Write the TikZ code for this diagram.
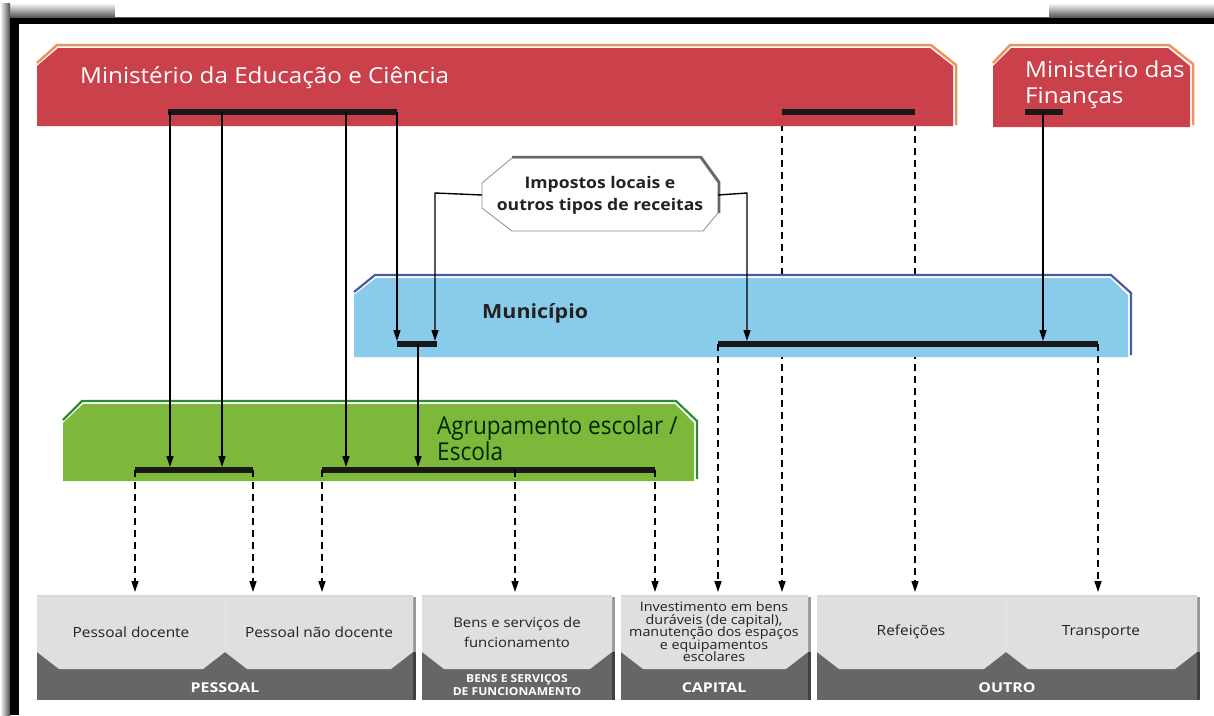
\documentclass[tikz,border=0pt]{standalone}
\usepackage{fontspec}
\setmainfont{Open Sans}
\newfontfamily\wfont[FakeStretch=1.1]{Open Sans}
\newfontfamily\bfont[FakeStretch=1.18]{Open Sans}
\usetikzlibrary{arrows.meta}
\definecolor{mecred}{HTML}{CA414B}
\definecolor{mecorange}{HTML}{E9955C}
\definecolor{munblue}{HTML}{88CBEA}
\definecolor{mundark}{HTML}{4A5BA5}
\definecolor{agrgreen}{HTML}{7DB83A}
\definecolor{agrdark}{HTML}{2E8B3A}
\definecolor{lightbox}{HTML}{E0DEDF}
\definecolor{darkband}{HTML}{666666}
\definecolor{txtdark}{HTML}{222222}
\begin{document}
\begin{tikzpicture}[x=1pt,y=-1pt,
  conn/.style={line width=1.4pt, draw=black},
  arr/.style={conn, -{Triangle[length=11pt,width=7pt]}},
  darr/.style={arr, dash pattern=on 7pt off 5pt},
  bar/.style={line width=6pt, draw=black!90},
  lbl/.style={inner sep=0pt, align=center, text=txtdark},
  bandlbl/.style={inner sep=0pt, align=center, text=white},
]
\useasboundingbox (0,0) rectangle (1214,715);
\fill[white] (0,0) rectangle (1214,715);
% frame with shadow
\shade[top color=white, bottom color=black!70] (0,3) rectangle (1214,18);
\shade[left color=white, right color=black!70] (0,3) rectangle (10,715);
\fill[black] (10,18) rectangle (1214,24);
\fill[black] (10,18) rectangle (19,715);
\fill[white] (115,0) rectangle (1049,17);

% ---- named points
\coordinate (mb1) at (168,112); \coordinate (mb2) at (397,112);
\coordinate (mr1) at (782,112); \coordinate (mr2) at (915,112);
\coordinate (fb1) at (1025,112); \coordinate (fb2) at (1063,112);
\coordinate (ub1) at (397,344); \coordinate (ub2) at (437,344);
\coordinate (ur1) at (718,344); \coordinate (ur2) at (1098,344);
\coordinate (gb1) at (135,470); \coordinate (gb2) at (253,470);
\coordinate (gc1) at (322,470); \coordinate (gc2) at (655,470);

% ---- dashed connectors behind the Municipio box
\draw[darr] (mr1) -- (782,592);
\draw[darr] (mr2) -- (915,592);

% ---- Ministry of Education
\fill[mecred] (37,66) -- (58,48) -- (930,48) -- (953,66) -- (953,126) -- (37,126) -- cycle;
\draw[mecorange, line width=2.5pt] (37,63) -- (57,45) -- (931,45) -- (956,65) -- (956,125);
\node[anchor=west, inner sep=0pt, text=white, font=\wfont\fontsize{22}{26}\selectfont] (mec) at (80,78) {Ministério da Educação e Ciência};

% ---- Ministry of Finance
\fill[mecred] (993,66) -- (1011,48) -- (1168,48) -- (1190,66) -- (1190,127) -- (993,127) -- cycle;
\draw[mecorange, line width=2.5pt] (993,63) -- (1010,45) -- (1169,45) -- (1193,64) -- (1193,125);
\node[anchor=north west, inner sep=0pt, align=left, text=white, font=\wfont\fontsize{22}{26}\selectfont] (fin) at (1025,60) {Ministério das\\Finanças};

% ---- Municipio
\fill[munblue] (354,295) -- (376,278) -- (1110,278) -- (1128,295) -- (1128,357) -- (354,357) -- cycle;
\draw[mundark, line width=2.2pt] (354,292) -- (375,275) -- (1111,275) -- (1131,293) -- (1131,355);
\node[anchor=west, inner sep=0pt, text=txtdark, font=\wfont\bfseries\fontsize{19.5}{24}\selectfont] (mun) at (482,313) {Município};

% ---- Agrupamento
\fill[agrgreen] (63,423) -- (83,404) -- (675,404) -- (694,423) -- (694,481) -- (63,481) -- cycle;
\draw[agrdark, line width=2.2pt] (63,420) -- (82,401) -- (676,401) -- (697,421) -- (697,479);
\node[anchor=north west, inner sep=0pt, align=left, text=black!85!green, font=\fontsize{23.5}{26}\selectfont] (agr) at (437,416) {\scalebox{0.96}[1.05]{Agrupamento escolar /}\\\scalebox{0.96}[1.05]{Escola}};

% ---- Octagon
\fill[white] (512,158) -- (700,158) -- (718,183) -- (718,213) -- (703,231) -- (512,231) -- (482,208) -- (482,183) -- cycle;
\draw[black!45, line width=0.8pt] (512,158) -- (700,158) -- (718,183) -- (718,213) -- (703,231) -- (512,231) -- (482,208) -- (482,183) -- cycle;
\draw[black!60, line width=2.5pt] (512,157) -- (701,157) -- (719,182) -- (719,213);
\node[lbl, font=\wfont\bfseries\fontsize{16}{22}\selectfont] (oct) at (600,195) {Impostos locais e\\outros tipos de receitas};

% ---- bars
\draw[bar] (mb1) -- (mb2);
\draw[bar] (mr1) -- (mr2);
\draw[bar] (fb1) -- (fb2);
\draw[bar] (ub1) -- (ub2);
\draw[bar] (ur1) -- (ur2);
\draw[bar] (gb1) -- (gb2);
\draw[bar] (gc1) -- (gc2);

% ---- solid connectors
\draw[arr] (170,112) -- (170,467);
\draw[arr] (222,112) -- (222,467);
\draw[arr] (346,112) -- (346,467);
\draw[arr] (mb2) -- (397,341);
\draw[arr] (oct.west -| 482,0) -- (435,193) -- (435,341);
\draw[arr] (oct.east -| 718,0) -- (747,193) -- (747,341);
\draw[arr] (1043,112) -- (1043,341);
\draw[arr] (418,344) -- (418,467);

% ---- dashed from lower bars
\draw[darr] (ur1) -- (718,592);
\draw[darr] (ur2) -- (1098,592);
\draw[darr] (gb1) -- (135,592);
\draw[darr] (gb2) -- (253,592);
\draw[darr] (gc1) -- (322,592);
\draw[darr] (515,470) -- (515,592);
\draw[darr] (gc2) -- (655,592);

% ---- bottom groups
\newcommand{\grp}[2]{%
  \fill[darkband] (#1,652) rectangle (#2,700);
  \fill[black!75] (#2,652) rectangle (#2+3,700);
  \fill[black!40] (#2,597) rectangle (#2+3,652);}
\newcommand{\sub}[2]{%
  \fill[lightbox] (#1,597) -- (#2,597) -- (#2,652) -- (#2-22,669) -- (#1+22,669) -- (#1,652) -- cycle;
  \draw[black!15, line width=2pt] (#1,596) -- (#2,596);}
\grp{37}{413}\sub{37}{225}\sub{225}{413}
\draw[white!90!black, line width=1pt] (225,597) -- (225,652);
\grp{422}{612}\sub{422}{612}
\grp{621}{808}\sub{621}{808}
\grp{817}{1197}\sub{817}{1006}\sub{1006}{1197}
\draw[white!90!black, line width=1pt] (1006,597) -- (1006,652);

\newcommand{\tightlines}{\lineskiplimit=-6pt\lineskip=0pt\relax}
\node[lbl, font=\wfont\fontsize{14}{18}\selectfont] (pd) at (131,632) {Pessoal docente};
\node[lbl, font=\wfont\fontsize{14}{18}\selectfont] (pnd) at (319,632) {Pessoal não docente};
\node[lbl, font=\wfont\fontsize{13.5}{20}\selectfont] (bs) at (517,632) {Bens e serviços de\\funcionamento};
\node[lbl, font={\wfont\fontsize{13}{12.5}\selectfont\tightlines}] (inv) at (714,632) {Investimento em bens\\duráveis (de capital),\\manutenção dos espaços\\e equipamentos\\escolares};
\node[lbl, font=\wfont\fontsize{14}{18}\selectfont] (ref) at (911,632) {Refeições};
\node[lbl, font=\wfont\fontsize{14}{18}\selectfont] (tra) at (1101,632) {Transporte};

\node[bandlbl, font=\bfont\bfseries\fontsize{13.5}{16}\selectfont] (pes) at (225,688) {PESSOAL};
\node[bandlbl, font=\wfont\bfseries\fontsize{11}{12.5}\selectfont] (bsf) at (517,685) {BENS E SERVIÇOS\\DE FUNCIONAMENTO};
\node[bandlbl, font=\bfont\bfseries\fontsize{13.5}{16}\selectfont] (cap) at (714,688) {CAPITAL};
\node[bandlbl, font=\bfont\bfseries\fontsize{13.5}{16}\selectfont] (out) at (1007,688) {OUTRO};
\end{tikzpicture}
\end{document}
